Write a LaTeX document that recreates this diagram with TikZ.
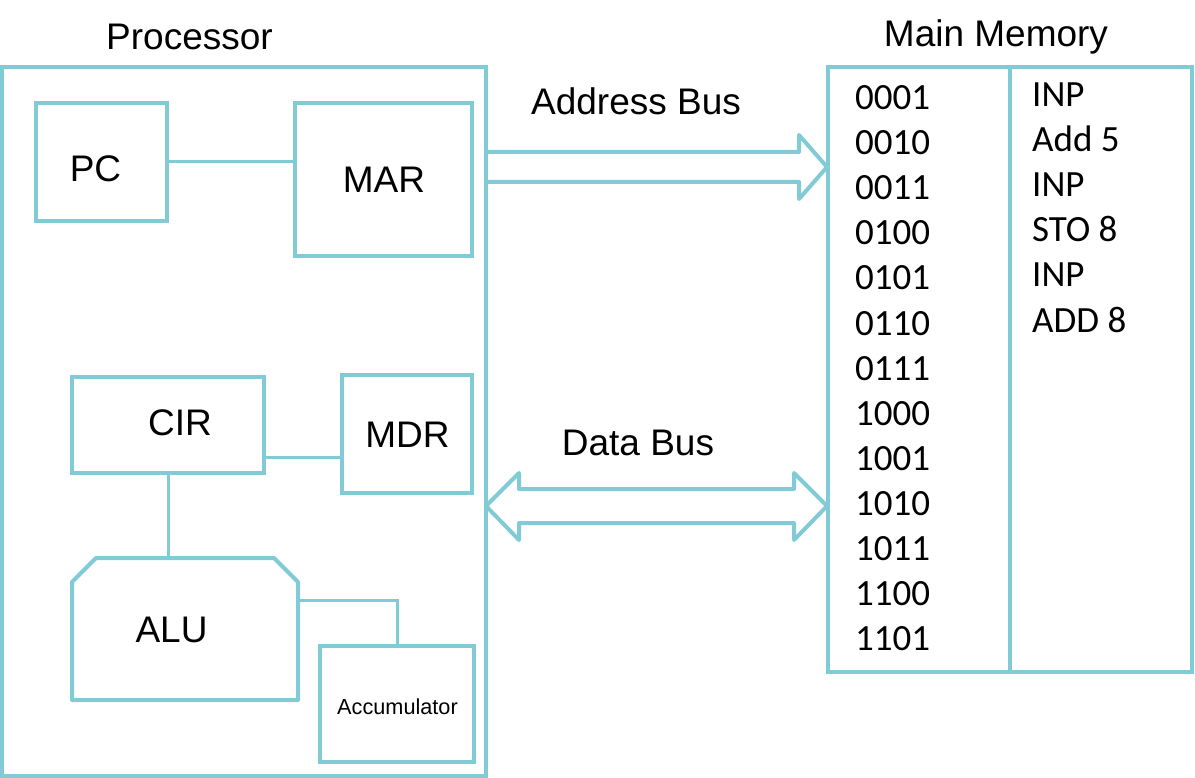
\documentclass[tikz,border=0pt]{standalone}
\usepackage{fontspec}
\setmainfont{Liberation Sans}
\newfontfamily\memfont{Carlito}
\definecolor{tealline}{RGB}{128,203,214}
\begin{document}
\begin{tikzpicture}[x=1pt,y=-1pt,
  box/.style={draw=tealline, line width=4pt, inner sep=0pt, outer sep=0pt, rectangle},
  wire/.style={draw=tealline, line width=3pt},
  bus/.style={draw=tealline, line width=4pt, line join=round},
  lbl/.style={font=\fontsize{37}{44}\selectfont, anchor=base, inner sep=0pt},
  smalllbl/.style={font=\fontsize{21.7}{26}\selectfont, anchor=base, inner sep=0pt},
  memtxt/.style={font=\memfont\fontsize{37}{44}\selectfont, anchor=base west, inner sep=0pt}]
\useasboundingbox (0,0) rectangle (1195,778);

% outer boxes
\node[box, minimum width=484pt, minimum height=709pt] (proc) at (244,421.5) {};
\node[box, minimum width=364pt, minimum height=605pt] (mem) at (1010,369.5) {};
\draw[box] (mem.north) -- (mem.south);

% registers
\node[box, minimum width=131pt, minimum height=118pt] (pc) at (101.5,162) {};
\node[box, minimum width=177pt, minimum height=153pt] (mar) at (383.5,179.5) {};
\node[box, minimum width=192pt, minimum height=96pt] (cir) at (168,425) {};
\node[box, minimum width=130pt, minimum height=118pt] (mdr) at (407,434) {};
\node[inner sep=0pt, outer sep=0pt, minimum width=226pt, minimum height=142pt] (alu) at (185,629) {};
\draw[box, line join=round] (alu.south west) -- ([yshift=-24pt]alu.north west) -- ([xshift=24pt]alu.north west)
  -- ([xshift=-24pt]alu.north east) -- ([yshift=-24pt]alu.north east) -- (alu.south east) -- cycle;
\node[box, minimum width=154pt, minimum height=116pt] (acc) at (397,704) {};

% connectors
\coordinate (ycm) at (0,457);
\coordinate (yaa) at (0,600);
\draw[wire] (pc.east) -- (pc.east -| mar.west);
\draw[wire] (cir.east |- ycm) -- (mdr.west |- ycm);
\draw[wire] (cir.south) -- (cir.south |- alu.north);
\draw[wire] (alu.east |- yaa) -| (acc.north);

% buses
\draw[bus] (486,152) -- (799,152) -- (799,135) -- (827,167) -- (799,199) -- (799,182) -- (486,182);
\draw[bus] (486,506) -- (519,473) -- (519,489) -- (794,489) -- (794,473) -- (827,506)
  -- (794,540) -- (794,523) -- (519,523) -- (519,540) -- cycle;

% labels
\node[lbl] (ptitle) at (189.5,50) {Processor};
\node[lbl] (mtitle) at (996,47) {Main Memory};
\node[lbl] (abus) at (636,115) {Address Bus};
\node[lbl] (dbus) at (638,455) {Data Bus};
\node[lbl] (pct) at (95.5,182) {PC};
\node[lbl] (mart) at (384,193) {MAR};
\node[lbl] (cirt) at (180,435) {CIR};
\node[lbl] (mdrt) at (407.5,447) {MDR};
\node[lbl] (alut) at (171.5,642) {ALU};
\node[smalllbl] (acct) at (397.5,714) {Accumulator};

% memory contents
\foreach \t [count=\i from 0] in {0001,0010,0011,0100,0101,0110,0111,1000,1001,1010,1011,1100,1101}
  \node[memtxt] (addr\i) at (855,{110+45*\i}) {\t};
\foreach \t [count=\i from 0] in {INP,Add 5,INP,STO 8,INP,ADD 8}
  \node[memtxt] (ins\i) at (1032,{107+45*\i}) {\t};
\end{tikzpicture}
\end{document}
